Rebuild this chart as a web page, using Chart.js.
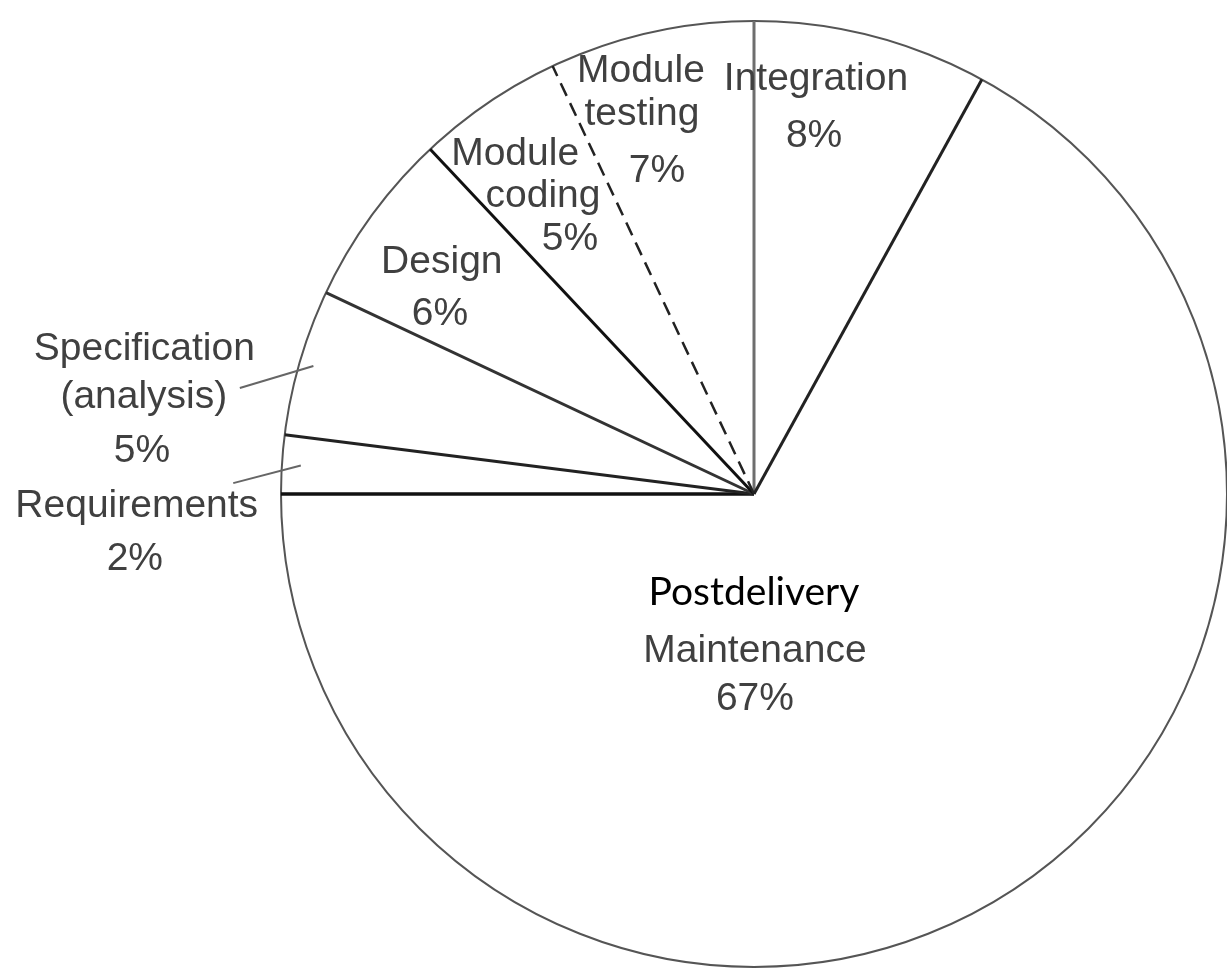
<!DOCTYPE html>
<html>
<head>
<meta charset="utf-8">
<title>Software life-cycle cost</title>
<script src="https://cdn.jsdelivr.net/npm/chart.js@4.4.0/dist/chart.umd.min.js"></script>
<style>
    html, body { margin: 0; padding: 0; background: #fff; }
    .chart-box { position: relative; width: 1227px; height: 978px; }
</style>
</head>
<body>
<div class="chart-box"><canvas id="cost-pie"></canvas></div>
<script>
// Phases clockwise from 12 o'clock and their share of total cost (%)
var phases = ['Integration', 'Postdelivery Maintenance', 'Requirements', 'Specification (analysis)', 'Design', 'Module coding', 'Module testing'];
var shares = [8, 67, 2, 5, 6, 5, 7];

// Text lines per phase, the percentage line is appended from shares
var labelLines = [
    ['Integration'],
    ['Postdelivery', 'Maintenance'],
    ['Requirements'],
    ['Specification', '(analysis)'],
    ['Design'],
    ['Module', 'coding'],
    ['Module', 'testing']
];

// Baseline centre of each text line, offset from the pie centre in radius units
var labelPlaces = [
    [[0.131, -0.854], [0.127, -0.734]],
    [[0, 0.235], [0.002, 0.355], [0.002, 0.457]],
    [[-1.305, 0.049], [-1.309, 0.161]],
    [[-1.289, -0.283], [-1.290, -0.182], [-1.294, -0.068]],
    [[-0.660, -0.467], [-0.664, -0.357]],
    [[-0.505, -0.696], [-0.446, -0.607], [-0.389, -0.516]],
    [[-0.239, -0.871], [-0.237, -0.780], [-0.205, -0.660]]
];

// Leader lines for the two labels set outside the pie
var leaders = {
    2: { from: [-1.101, -0.023], depth: 0.96 },
    3: { from: [-1.087, -0.224], depth: 0.97 }
};

// Radial edge drawn at the start angle of each slice
var edgeStyles = [
    { color: '#6e6e6e', width: 3 },
    { color: '#222', width: 3 },
    { color: '#111', width: 3.5 },
    { color: '#222', width: 3 },
    { color: '#333', width: 3 },
    { color: '#111', width: 3 },
    { color: '#222', width: 2.5, dash: [14, 8] }
];

var textFont = '39px "Liberation Sans", Arial, sans-serif';
var textColor = '#404040';

var pieDecor = {
    id: 'pieDecor',
    afterDraw: function (chart) {
        var ctx = chart.ctx;
        var arcs = chart.getDatasetMeta(0).data;
        if (!arcs.length) return;
        var first = arcs[0].getProps(['x', 'y', 'outerRadius']);
        var cx = first.x, cy = first.y, r = first.outerRadius;

        ctx.save();
        ctx.lineCap = 'butt';

        // outline
        ctx.beginPath();
        ctx.arc(cx, cy, r, 0, Math.PI * 2);
        ctx.strokeStyle = '#555';
        ctx.lineWidth = 2;
        ctx.stroke();

        // slice edges
        arcs.forEach(function (arc, i) {
            var p = arc.getProps(['startAngle']);
            var st = edgeStyles[i];
            ctx.beginPath();
            ctx.setLineDash(st.dash || []);
            ctx.moveTo(cx, cy);
            ctx.lineTo(cx + r * Math.cos(p.startAngle), cy + r * Math.sin(p.startAngle));
            ctx.strokeStyle = st.color;
            ctx.lineWidth = st.width;
            ctx.stroke();
        });
        ctx.setLineDash([]);

        // leaders
        Object.keys(leaders).forEach(function (k) {
            var lead = leaders[k];
            var p = arcs[k].getProps(['startAngle', 'endAngle']);
            var mid = (p.startAngle + p.endAngle) / 2;
            ctx.beginPath();
            ctx.moveTo(cx + lead.from[0] * r, cy + lead.from[1] * r);
            ctx.lineTo(cx + lead.depth * r * Math.cos(mid), cy + lead.depth * r * Math.sin(mid));
            ctx.strokeStyle = '#666';
            ctx.lineWidth = 2;
            ctx.stroke();
        });

        // labels
        ctx.textAlign = 'center';
        ctx.textBaseline = 'alphabetic';
        labelLines.forEach(function (lines, i) {
            var all = lines.concat([shares[i] + '%']);
            all.forEach(function (txt, j) {
                var pos = labelPlaces[i][j];
                if (i === 1 && j === 0) {
                    ctx.font = '39px Lato, "Open Sans", sans-serif';
                    ctx.fillStyle = '#000';
                } else {
                    ctx.font = textFont;
                    ctx.fillStyle = textColor;
                }
                ctx.fillText(txt, cx + pos[0] * r, cy + pos[1] * r);
            });
        });
        ctx.restore();
    }
};

document.addEventListener('DOMContentLoaded', function () {
    var pieCanvas = document.getElementById('cost-pie').getContext('2d');
    new Chart(pieCanvas, {
        type: 'pie',
        data: {
            labels: phases,
            datasets: [{
                data: shares,
                backgroundColor: '#fff',
                borderWidth: 0,
                hoverBorderWidth: 0,
                hoverOffset: 0
            }]
        },
        options: {
            responsive: true,
            maintainAspectRatio: false,
            animation: false,
            events: [],
            layout: {
                padding: { left: 281, top: 21, right: 0, bottom: 11 }
            },
            plugins: {
                legend: { display: false },
                tooltip: { enabled: false }
            }
        },
        plugins: [pieDecor]
    });
});
</script>
</body>
</html>
